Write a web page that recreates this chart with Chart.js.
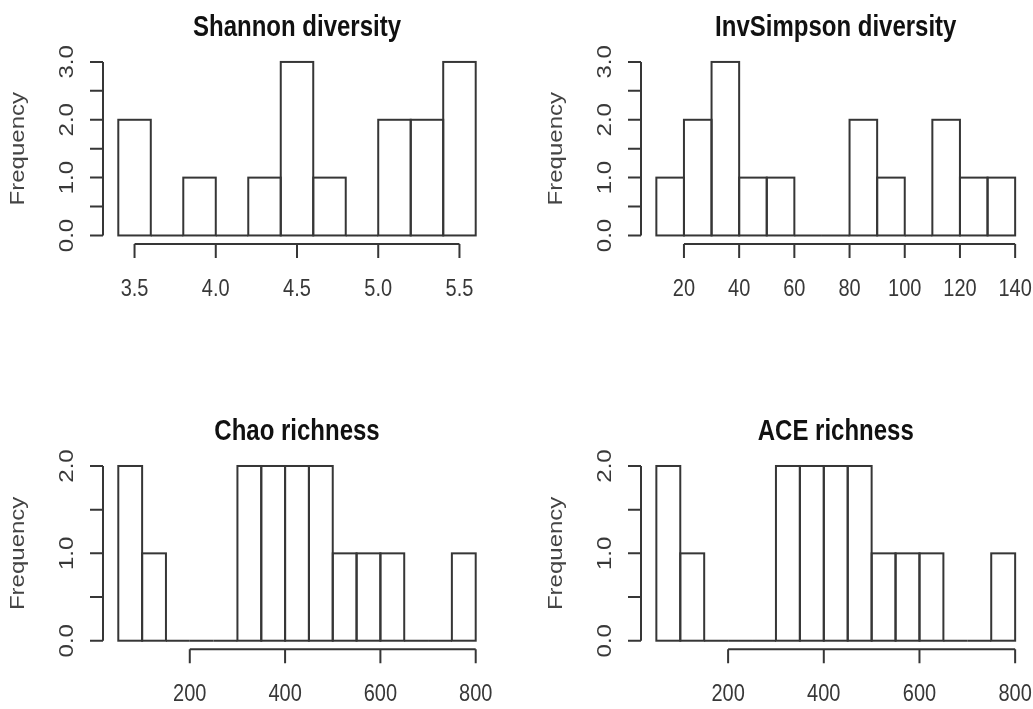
<!DOCTYPE html>
<html><head><meta charset="utf-8">
<script src="https://cdn.jsdelivr.net/npm/chart.js@4/dist/chart.umd.min.js"></script>
<style>
html,body{margin:0;padding:0;background:#fff;}
body{width:1033px;height:709px;position:relative;overflow:hidden;}
canvas{position:absolute;display:block;}
</style></head><body>
<canvas id="c1" width="516" height="354" style="left:0;top:0"></canvas>
<canvas id="c2" width="517" height="354" style="left:516px;top:0"></canvas>
<canvas id="c3" width="516" height="355" style="left:0;top:354px"></canvas>
<canvas id="c4" width="517" height="355" style="left:516px;top:354px"></canvas>
<script>
// ---------- data ----------
const panelTitles = ['Shannon diversity', 'InvSimpson diversity', 'Chao richness', 'ACE richness'];
const yAxisTitle = 'Frequency';

const shannonBreaks = [3.4, 3.6, 3.8, 4.0, 4.2, 4.4, 4.6, 4.8, 5.0, 5.2, 5.4, 5.6];
const shannonCounts = [2, 0, 1, 0, 1, 3, 1, 0, 2, 2, 3];
const shannonXTicks = [3.5, 4.0, 4.5, 5.0, 5.5];
const shannonXLabels = ['3.5', '4.0', '4.5', '5.0', '5.5'];

const invSimpsonBreaks = [10, 20, 30, 40, 50, 60, 70, 80, 90, 100, 110, 120, 130, 140];
const invSimpsonCounts = [1, 2, 3, 1, 1, 0, 0, 2, 1, 0, 2, 1, 1];
const invSimpsonXTicks = [20, 40, 60, 80, 100, 120, 140];
const invSimpsonXLabels = ['20', '40', '60', '80', '100', '120', '140'];

const chaoBreaks = [50, 100, 150, 200, 250, 300, 350, 400, 450, 500, 550, 600, 650, 700, 750, 800];
const chaoCounts = [2, 1, 0, 0, 0, 2, 2, 2, 2, 1, 1, 1, 0, 0, 1];

const aceBreaks = [50, 100, 150, 200, 250, 300, 350, 400, 450, 500, 550, 600, 650, 700, 750, 800];
const aceCounts = [2, 1, 0, 0, 0, 2, 2, 2, 2, 1, 1, 1, 0, 0, 1];

const richnessXTicks = [200, 400, 600, 800];
const richnessXLabels = ['200', '400', '600', '800'];

const diversityYTicks = [0, 0.5, 1, 1.5, 2, 2.5, 3];
const diversityYLabelTicks = [0, 1, 2, 3];
const diversityYLabels = ['0.0', '1.0', '2.0', '3.0'];
const richnessYTicks = [0, 0.5, 1, 1.5, 2];
const richnessYLabelTicks = [0, 1, 2];
const richnessYLabels = ['0.0', '1.0', '2.0'];

// ---------- style ----------
const LINE = '#363636';
const TEXT = '#383838';
const FONT = '"Liberation Sans", Arial, sans-serif';
const K = 1.2; // vertical text stretch as in the reference

function sText(ctx, text, x, y, font, color, rotate, baseline) {
  ctx.save();
  ctx.translate(x, y);
  ctx.scale(1, K);
  if (rotate) ctx.rotate(-Math.PI / 2);
  ctx.font = font;
  ctx.fillStyle = color;
  ctx.textAlign = 'center';
  ctx.textBaseline = baseline || 'middle';
  ctx.fillText(text, 0, 0);
  ctx.restore();
}

const rHist = {
  id: 'rHist',
  afterDatasetsDraw(chart, args, o) {
    const ctx = chart.ctx, xs = chart.scales.x, ys = chart.scales.y, a = chart.chartArea;
    ctx.save();
    ctx.strokeStyle = LINE;
    ctx.lineWidth = 2;
    // histogram rectangles from the library's bar elements
    const meta = chart.getDatasetMeta(0);
    meta.data.forEach(el => {
      const p = el.getProps(['x', 'y', 'base', 'width'], true);
      ctx.strokeRect(p.x - p.width / 2, p.y, p.width, p.base - p.y);
    });
    ctx.beginPath();
    // y axis
    const ax = a.left - 1;
    ctx.moveTo(ax, ys.getPixelForValue(o.yTicks[0]));
    ctx.lineTo(ax, ys.getPixelForValue(o.yTicks[o.yTicks.length - 1]));
    o.yTicks.forEach(v => {
      const py = ys.getPixelForValue(v);
      ctx.moveTo(ax, py); ctx.lineTo(ax - 13, py);
    });
    // x axis
    const ay = a.bottom + 1.5;
    ctx.moveTo(xs.getPixelForValue(o.xTicks[0]), ay);
    ctx.lineTo(xs.getPixelForValue(o.xTicks[o.xTicks.length - 1]), ay);
    o.xTicks.forEach(v => {
      const px = xs.getPixelForValue(v);
      ctx.moveTo(px, ay); ctx.lineTo(px, ay + 14);
    });
    ctx.stroke();
    ctx.restore();

    // labels
    o.xTicks.forEach((v, i) => {
      sText(ctx, o.xLabels[i], xs.getPixelForValue(v), a.bottom + 47, '20px ' + FONT, TEXT, false);
    });
    o.yLabelTicks.forEach((v, i) => {
      sText(ctx, o.yLabels[i], a.left - 37, ys.getPixelForValue(v), '20px ' + FONT, TEXT, true);
    });
    sText(ctx, yAxisTitle, a.left - 86, (a.top + a.bottom) / 2, '20px ' + FONT, '#444', true);
    sText(ctx, o.title, (a.left + a.right) / 2, a.top - 19, 'bold 24px ' + FONT, '#111', false, 'alphabetic');
  }
};

function makeHist(id, title, breaks, counts, xTicks, xLabels, yTicks, yLabelTicks, yLabels, padding) {
  const centers = counts.map((c, i) => ({ x: (breaks[i] + breaks[i + 1]) / 2, y: c }));
  const xr = breaks[breaks.length - 1] - breaks[0];
  const ymax = yTicks[yTicks.length - 1];
  new Chart(document.getElementById(id), {
    type: 'bar',
    data: {
      datasets: [{
        data: centers,
        backgroundColor: '#ffffff',
        borderWidth: 0,
        barPercentage: 1,
        categoryPercentage: 1,
        grouped: false
      }]
    },
    options: {
      responsive: false,
      animation: false,
      events: [],
      layout: { padding: padding },
      scales: {
        x: {
          type: 'linear', display: false, offset: false,
          min: breaks[0] - 0.04 * xr, max: breaks[breaks.length - 1] + 0.04 * xr,
          afterBuildTicks: s => { s.ticks = breaks.map(v => ({ value: v })); }
        },
        y: {
          type: 'linear', display: false,
          min: -0.04 * ymax, max: 1.04 * ymax
        }
      },
      plugins: {
        legend: { display: false },
        tooltip: { enabled: false },
        rHist: { title, xTicks, xLabels, yTicks, yLabelTicks, yLabels }
      }
    },
    plugins: [rHist]
  });
}

makeHist('c1', panelTitles[0], shannonBreaks, shannonCounts, shannonXTicks, shannonXLabels,
  diversityYTicks, diversityYLabelTicks, diversityYLabels, { left: 104, right: 26, top: 55, bottom: 111.6 });
makeHist('c2', panelTitles[1], invSimpsonBreaks, invSimpsonCounts, invSimpsonXTicks, invSimpsonXLabels,
  diversityYTicks, diversityYLabelTicks, diversityYLabels, { left: 126, right: 3.5, top: 55, bottom: 111.6 });
makeHist('c3', panelTitles[2], chaoBreaks, chaoCounts, richnessXTicks, richnessXLabels,
  richnessYTicks, richnessYLabelTicks, richnessYLabels, { left: 104, right: 26, top: 105, bottom: 61.3 });
makeHist('c4', panelTitles[3], aceBreaks, aceCounts, richnessXTicks, richnessXLabels,
  richnessYTicks, richnessYLabelTicks, richnessYLabels, { left: 126, right: 3.5, top: 105, bottom: 61.3 });
</script>
</body></html>
